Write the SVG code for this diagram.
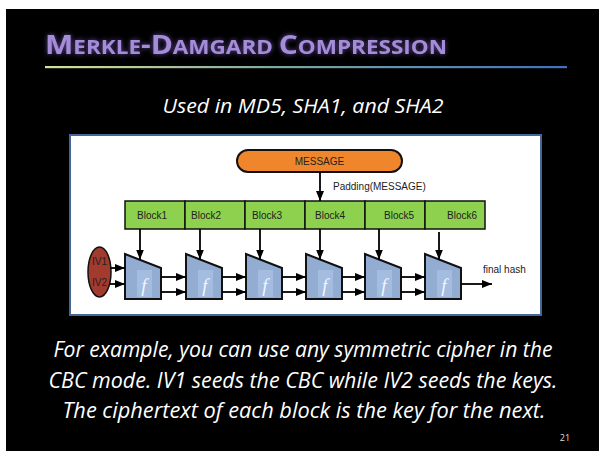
<svg xmlns="http://www.w3.org/2000/svg" width="599" height="451" viewBox="0 0 599 451">
<defs>
<linearGradient id="rule" x1="0" y1="0" x2="1" y2="0">
<stop offset="0" stop-color="#d2e39a"/>
<stop offset="0.45" stop-color="#7fa7a0"/>
<stop offset="1" stop-color="#3f70bb"/>
</linearGradient>
<filter id="glow" x="-10%" y="-50%" width="120%" height="200%">
<feGaussianBlur in="SourceAlpha" stdDeviation="2.5" result="b"/>
<feFlood flood-color="#7a5cc0" flood-opacity="0.8"/>
<feComposite in2="b" operator="in" result="g"/>
<feMerge><feMergeNode in="g"/><feMergeNode in="SourceGraphic"/></feMerge>
</filter>
<marker id="arr" markerWidth="10" markerHeight="8" refX="10" refY="4" orient="auto" markerUnits="userSpaceOnUse">
<path d="M0,0 L10,4 L0,8 Z" fill="#000"/>
</marker>
</defs>
<style>
.blk{fill:#8dd14f;stroke:#111;stroke-width:1.5}
.bt{font-family:"Liberation Sans",Arial,sans-serif;font-size:10px;fill:#222}
.fn{fill:#93add2;stroke:#111;stroke-width:2}
.fi{fill:#a3bcdf}
.fl{font-family:"Liberation Serif","DejaVu Serif",serif;font-style:italic;font-size:19px;fill:#f2f6fc}
.ln{stroke:#000;stroke-width:1.8;fill:none}
.wt{font-family:"Open Sans","Liberation Sans",sans-serif;font-style:italic;fill:#fff}
</style>
<rect x="0" y="0" width="599" height="451" fill="#fff"/>
<rect x="6" y="9" width="593" height="442" fill="#000"/>
<g id="title" filter="url(#glow)">
<text x="45" y="54" font-family="Open Sans,'Liberation Sans',sans-serif" font-weight="bold" fill="#a58cd8" textLength="402" lengthAdjust="spacingAndGlyphs"><tspan font-size="26">M</tspan><tspan font-size="19.5">ERKLE</tspan><tspan font-size="26">-D</tspan><tspan font-size="19.5">AMGARD </tspan><tspan font-size="26">C</tspan><tspan font-size="19.5">OMPRESSION</tspan></text>
</g>
<rect x="45" y="66" width="522" height="2.2" fill="url(#rule)"/>
<text class="wt" x="303" y="113" font-size="20" text-anchor="middle" textLength="281" lengthAdjust="spacingAndGlyphs">Used in MD5, SHA1, and SHA2</text>
<rect id="panel" x="70" y="135" width="471" height="180" fill="#fff" stroke="#44679a" stroke-width="2"/>
<g id="message">
<rect x="237" y="150" width="165" height="22" rx="11" fill="#f0862b" stroke="#111" stroke-width="2"/>
<text class="bt" x="319.5" y="164.5" text-anchor="middle">MESSAGE</text>
</g>
<g id="blocks">
<g id="block1"><rect class="blk" x="125" y="201" width="60" height="28"/><text class="bt" x="137" y="218.5">Block1</text></g>
<g id="block2"><rect class="blk" x="185" y="201" width="60" height="28"/><text class="bt" x="191" y="218.5">Block2</text></g>
<g id="block3"><rect class="blk" x="245" y="201" width="60" height="28"/><text class="bt" x="252" y="218.5">Block3</text></g>
<g id="block4"><rect class="blk" x="305" y="201" width="60" height="28"/><text class="bt" x="315" y="218.5">Block4</text></g>
<g id="block5"><rect class="blk" x="365" y="201" width="60" height="28"/><text class="bt" x="384" y="218.5">Block5</text></g>
<g id="block6"><rect class="blk" x="425" y="201" width="60" height="28"/><text class="bt" x="447" y="218.5">Block6</text></g>
</g>
<g id="iv">
<ellipse cx="99.5" cy="272" rx="11.5" ry="25" fill="#a33a2e" stroke="#111" stroke-width="1.5"/>
<text class="bt" x="99.5" y="265" text-anchor="middle" fill="#333">IV1</text>
<text class="bt" x="99.5" y="286" text-anchor="middle" fill="#333">IV2</text>
</g>
<g id="f1"><path class="fn" d="M125,254 L161,268 L161,299 L125,299 Z"/><rect class="fi" x="137" y="270" width="15" height="27"/><text class="fl" x="144" y="292" text-anchor="middle">f</text></g>
<g id="f2"><path class="fn" d="M186,254 L222,268 L222,299 L186,299 Z"/><rect class="fi" x="198" y="270" width="15" height="27"/><text class="fl" x="205" y="292" text-anchor="middle">f</text></g>
<g id="f3"><path class="fn" d="M246,254 L282,268 L282,299 L246,299 Z"/><rect class="fi" x="258" y="270" width="15" height="27"/><text class="fl" x="265" y="292" text-anchor="middle">f</text></g>
<g id="f4"><path class="fn" d="M306,254 L342,268 L342,299 L306,299 Z"/><rect class="fi" x="318" y="270" width="15" height="27"/><text class="fl" x="325" y="292" text-anchor="middle">f</text></g>
<g id="f5"><path class="fn" d="M365,254 L401,268 L401,299 L365,299 Z"/><rect class="fi" x="377" y="270" width="15" height="27"/><text class="fl" x="384" y="292" text-anchor="middle">f</text></g>
<g id="f6"><path class="fn" d="M425,254 L461,268 L461,299 L425,299 Z"/><rect class="fi" x="437" y="270" width="15" height="27"/><text class="fl" x="444" y="292" text-anchor="middle">f</text></g>
<g id="connectors">
<line class="ln" x1="320" y1="172" x2="320" y2="201" marker-end="url(#arr)"/>
<text class="bt" x="333" y="190">Padding(MESSAGE)</text>
<line class="ln" x1="140" y1="229" x2="140" y2="259.5" marker-end="url(#arr)"/>
<line class="ln" x1="200" y1="229" x2="200" y2="259.5" marker-end="url(#arr)"/>
<line class="ln" x1="260" y1="229" x2="260" y2="259.5" marker-end="url(#arr)"/>
<line class="ln" x1="320" y1="229" x2="320" y2="259.5" marker-end="url(#arr)"/>
<line class="ln" x1="379" y1="229" x2="379" y2="259.5" marker-end="url(#arr)"/>
<line class="ln" x1="439" y1="232" x2="439" y2="259.5" marker-end="url(#arr)"/>
<line class="ln" x1="110" y1="268" x2="125" y2="268" marker-end="url(#arr)"/>
<line class="ln" x1="110" y1="284" x2="125" y2="284" marker-end="url(#arr)"/>
<line class="ln" x1="161" y1="277" x2="186" y2="277" marker-end="url(#arr)"/>
<line class="ln" x1="161" y1="292" x2="186" y2="292" marker-end="url(#arr)"/>
<line class="ln" x1="222" y1="277" x2="246" y2="277" marker-end="url(#arr)"/>
<line class="ln" x1="222" y1="292" x2="246" y2="292" marker-end="url(#arr)"/>
<line class="ln" x1="282" y1="277" x2="306" y2="277" marker-end="url(#arr)"/>
<line class="ln" x1="282" y1="292" x2="306" y2="292" marker-end="url(#arr)"/>
<line class="ln" x1="342" y1="277" x2="365" y2="277" marker-end="url(#arr)"/>
<line class="ln" x1="342" y1="292" x2="365" y2="292" marker-end="url(#arr)"/>
<line class="ln" x1="401" y1="277" x2="425" y2="277" marker-end="url(#arr)"/>
<line class="ln" x1="401" y1="292" x2="425" y2="292" marker-end="url(#arr)"/>
<line class="ln" x1="461" y1="284" x2="492" y2="284" marker-end="url(#arr)"/>
<text class="bt" x="483" y="273">final hash</text>
</g>
<g id="caption" font-size="21.5">
<text class="wt" x="303" y="357" text-anchor="middle" textLength="499" lengthAdjust="spacingAndGlyphs">For example, you can use any symmetric cipher in the</text>
<text class="wt" x="303" y="388" text-anchor="middle" textLength="509" lengthAdjust="spacingAndGlyphs">CBC mode. IV1 seeds the CBC while IV2 seeds the keys.</text>
<text class="wt" x="304" y="418" text-anchor="middle" textLength="483" lengthAdjust="spacingAndGlyphs">The ciphertext of each block is the key for the next.</text>
</g>
<text x="565" y="441" font-family="'Open Sans','Liberation Sans',sans-serif" font-size="9" fill="#ddd" text-anchor="middle">21</text>
</svg>
